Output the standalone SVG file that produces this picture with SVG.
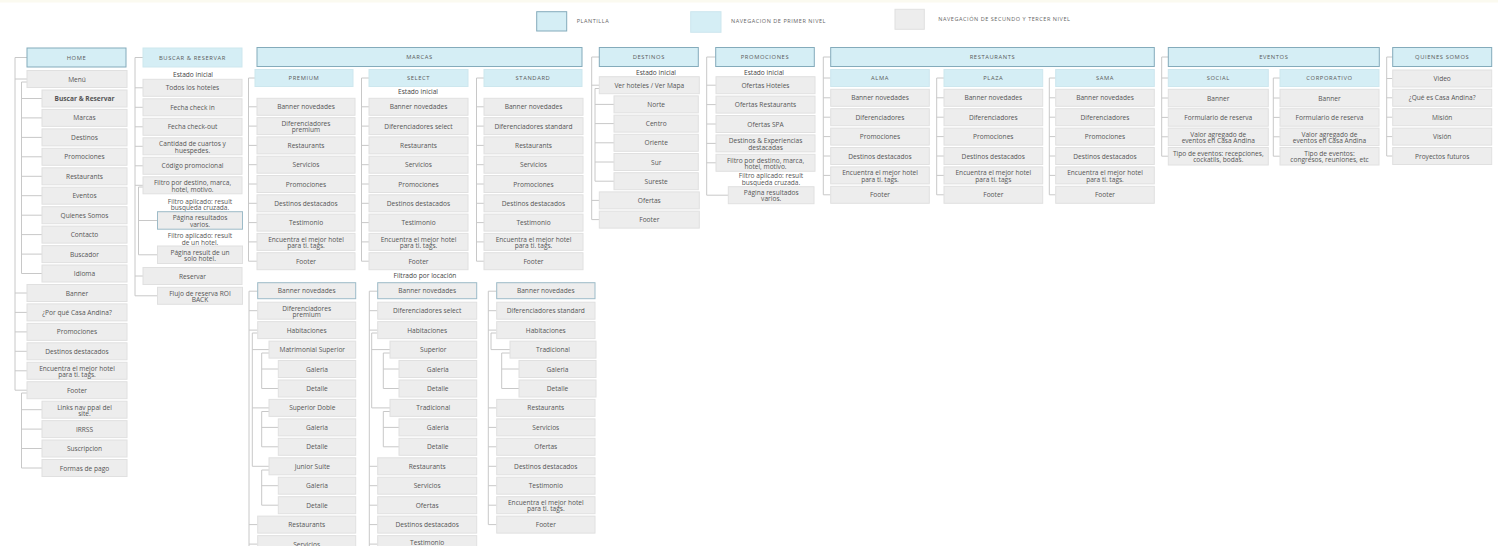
<svg xmlns="http://www.w3.org/2000/svg" width="1498" height="546" viewBox="0 0 1498 546">
<style>
.g{fill:#ededed;stroke:#e0e0e0;stroke-width:1}
.b{fill:#d5eef5;stroke:#cde7ee;stroke-width:1}
.p{fill:#d5eef5;stroke:#84abbb;stroke-width:1}
.gp{fill:#ededed;stroke:#9dbbc8;stroke-width:1}
text,tspan{font-family:"Open Sans","Liberation Sans",sans-serif;font-size:6.6px;fill:#555;text-anchor:middle;dominant-baseline:central}
.h{font-size:5.8px;letter-spacing:0.6px;fill:#5a5a5a}
.lg{font-size:5.5px;letter-spacing:0.55px;text-anchor:start;fill:#666}
.s{fill:#444}
.bd{font-weight:bold}
#connectors path{fill:none;stroke:#c8c8c8;stroke-width:1}
</style>
<rect x="0" y="0" width="1498" height="546" fill="#ffffff"/>
<rect x="0" y="0" width="1498" height="2.5" fill="#fbfaf0"/>

<g id="legend">
<rect class="p" x="536.7" y="11.7" width="30" height="19.3"/>
<text class="lg" x="576.7" y="21">PLANTILLA</text>
<rect class="b" x="690.7" y="11.7" width="30.3" height="20.6"/>
<text class="lg" x="731" y="21">NAVEGACION DE PRIMER NIVEL</text>
<rect class="g" x="895" y="9.3" width="29.3" height="20"/>
<text class="lg" x="938.3" y="19.3">NAVEGACIÓN DE SECUNDO Y TERCER NIVEL</text>
</g>

<g id="connectors">
<path d="M27 57.5H15V390.2H27 M15 79H27 M15 293H27 M15 312.4H27 M15 331.9H27 M15 351.3H27 M15 370.8H27"/>
<path d="M27 82H21.5V273.5H42 M21.5 98.5H42 M21.5 117.9H42 M21.5 137.4H42 M21.5 156.8H42 M21.5 176.3H42 M21.5 195.7H42 M21.5 215.2H42 M21.5 234.6H42 M21.5 254.1H42"/>
<path d="M27 393H21.5V468H42 M21.5 409.7H42 M21.5 429.1H42 M21.5 448.5H42"/>
<path d="M143 57.5H135V295.8H157.5 M135 87.8H143 M135 107.3H143 M135 126.8H143 M135 146.3H143 M135 165.8H143 M135 185.3H143 M135 276H143"/>
<path d="M143 187H138.5V254.8H157.5 M138.5 220.5H157.5"/>
<path d="M255 78H248.5V261.2H257 M248.5 106.8H257 M248.5 126.1H257 M248.5 145.4H257 M248.5 164.7H257 M248.5 184H257 M248.5 203.3H257 M248.5 222.6H257 M248.5 241.9H257"/>
<path d="M369 78H361.5V261.2H369 M361.5 106.8H369 M361.5 126.1H369 M361.5 145.4H369 M361.5 164.7H369 M361.5 184H369 M361.5 203.3H369 M361.5 222.6H369 M361.5 241.9H369"/>
<path d="M484 78H476.5V261.2H484 M476.5 106.8H484 M476.5 126.1H484 M476.5 145.4H484 M476.5 164.7H484 M476.5 184H484 M476.5 203.3H484 M476.5 222.6H484 M476.5 241.9H484"/>
<path d="M257.7 291.2H249V546 M249 310.7H257.7 M249 330.1H257.7 M249 524.6H257.7 M249 544.1H257.7"/>
<path d="M257.7 333H252.3V466.3H269 M252.3 349.6H269 M252.3 407.9H269"/>
<path d="M269 353H261.7V388.5H278.3 M261.7 369H278.3"/>
<path d="M269 411.5H261.7V446.8H278.3 M261.7 427.4H278.3"/>
<path d="M269 470H261.7V505.2H278.3 M261.7 485.7H278.3"/>
<path d="M377.7 291.2H369.3V546 M369.3 310.7H377.7 M369.3 330.1H377.7 M369.3 466.3H377.7 M369.3 485.7H377.7 M369.3 505.2H377.7 M369.3 524.6H377.7 M369.3 544.1H377.7"/>
<path d="M377.7 333H371.7V407.9H390 M371.7 349.6H390"/>
<path d="M390 353H383.3V388.5H399 M383.3 369H399"/>
<path d="M390 411.5H383.3V446.8H399 M383.3 427.4H399"/>
<path d="M496.7 291.2H488.3V524.6H496.7 M488.3 310.7H496.7 M488.3 330.1H496.7 M488.3 407.9H496.7 M488.3 427.4H496.7 M488.3 446.8H496.7 M488.3 466.3H496.7 M488.3 485.7H496.7 M488.3 505.2H496.7"/>
<path d="M496.7 333H491V349.6H510"/>
<path d="M510 353H501.7V388.5H519 M501.7 369H519"/>
<path d="M599.3 57H591.7V219.6H599.3 M591.7 85.2H599.3 M591.7 200.4H599.3"/>
<path d="M599.3 88.5H595V181.2H614 M595 104.4H614 M595 123.6H614 M595 142.8H614 M595 162H614"/>
<path d="M715.7 57H706.7V195.2H728.3 M706.7 85.2H716 M706.7 104.6H716 M706.7 124H716 M706.7 143.4H716 M706.7 162.8H716"/>
<path d="M830.7 57H823.3V194.8H830.7 M823.3 78H830.7 M823.3 97.8H830.7 M823.3 117.2H830.7 M823.3 136.6H830.7 M823.3 156H830.7 M823.3 175.4H830.7"/>
<path d="M944 78H936.7V194.8H944 M936.7 97.8H944 M936.7 117.2H944 M936.7 136.6H944 M936.7 156H944 M936.7 175.4H944"/>
<path d="M1055.7 78H1049.3V194.8H1055.7 M1049.3 97.8H1055.7 M1049.3 117.2H1055.7 M1049.3 136.6H1055.7 M1049.3 156H1055.7 M1049.3 175.4H1055.7"/>
<path d="M1168.3 57H1161.7V156.2H1168.3 M1161.7 78H1168.3 M1161.7 98H1168.3 M1161.7 117.4H1168.3 M1161.7 136.8H1168.3"/>
<path d="M1280 78H1273.3V156.2H1280 M1273.3 98H1280 M1273.3 117.4H1280 M1273.3 136.8H1280"/>
<path d="M1392.7 57H1386.7V156H1392.7 M1386.7 78.5H1392.7 M1386.7 97.8H1392.7 M1386.7 117.2H1392.7 M1386.7 136.6H1392.7"/>
</g>

<g id="labels">
<text class="s" x="193" y="74.5">Estado inicial</text>
<text class="s" x="200"><tspan x="200" y="200.8">Filtro aplicado: result</tspan><tspan x="200" y="207.4">busqueda cruzada.</tspan></text>
<text class="s" x="200"><tspan x="200" y="235.4">Filtro aplicado: result</tspan><tspan x="200" y="242">de un hotel.</tspan></text>
<text class="s" x="418" y="91.7">Estado inicial</text>
<text class="s" x="425" y="275.3">Filtrado por locación</text>
<text class="s" x="656" y="72.3">Estado inicial</text>
<text class="s" x="764" y="72.3">Estado inicial</text>
<text class="s" x="771"><tspan x="771" y="175.2">Filtro aplicado: result</tspan><tspan x="771" y="181.8">busqueda cruzada.</tspan></text>
</g>

<g id="home"><rect class="p" x="27" y="48" width="99" height="19"/><text class="h" x="76.5" y="57.5">HOME</text></g>
<g id="home-menu"><rect class="g" x="27" y="70.5" width="100" height="17"/><text x="77" y="79">Menú</text></g>
<g id="home-menu-buscar"><rect class="g" x="42" y="90" width="85" height="17"/><text class="bd" x="84.5" y="98.5">Buscar &amp; Reservar</text></g>
<g id="home-menu-marcas"><rect class="g" x="42" y="109.4" width="85" height="17"/><text x="84.5" y="117.9">Marcas</text></g>
<g id="home-menu-destinos"><rect class="g" x="42" y="128.9" width="85" height="17"/><text x="84.5" y="137.4">Destinos</text></g>
<g id="home-menu-promociones"><rect class="g" x="42" y="148.3" width="85" height="17"/><text x="84.5" y="156.8">Promociones</text></g>
<g id="home-menu-restaurants"><rect class="g" x="42" y="167.8" width="85" height="17"/><text x="84.5" y="176.3">Restaurants</text></g>
<g id="home-menu-eventos"><rect class="g" x="42" y="187.2" width="85" height="17"/><text x="84.5" y="195.7">Eventos</text></g>
<g id="home-menu-quienes"><rect class="g" x="42" y="206.7" width="85" height="17"/><text x="84.5" y="215.2">Quienes Somos</text></g>
<g id="home-menu-contacto"><rect class="g" x="42" y="226.1" width="85" height="17"/><text x="84.5" y="234.6">Contacto</text></g>
<g id="home-menu-buscador"><rect class="g" x="42" y="245.6" width="85" height="17"/><text x="84.5" y="254.1">Buscador</text></g>
<g id="home-menu-idioma"><rect class="g" x="42" y="265" width="85" height="17"/><text x="84.5" y="273.5">Idioma</text></g>
<g id="home-banner"><rect class="g" x="27" y="284.5" width="100" height="17"/><text x="77" y="293">Banner</text></g>
<g id="home-porque"><rect class="g" x="27" y="303.9" width="100" height="17"/><text x="77" y="312.4">¿Por qué Casa Andina?</text></g>
<g id="home-promociones"><rect class="g" x="27" y="323.4" width="100" height="17"/><text x="77" y="331.9">Promociones</text></g>
<g id="home-destinos"><rect class="g" x="27" y="342.8" width="100" height="17"/><text x="77" y="351.3">Destinos destacados</text></g>
<g id="home-encuentra"><rect class="g" x="27" y="362.3" width="100" height="17"/><text x="77"><tspan x="77" y="367.6">Encuentra el mejor hotel</tspan><tspan x="77" y="374">para ti. tags.</tspan></text></g>
<g id="home-footer"><rect class="g" x="27" y="381.7" width="100" height="17"/><text x="77" y="390.2">Footer</text></g>
<g id="home-footer-links"><rect class="g" x="42" y="401.2" width="85" height="17"/><text x="84.5"><tspan x="84.5" y="406.5">Links nav ppal del</tspan><tspan x="84.5" y="412.9">site.</tspan></text></g>
<g id="home-footer-irrss"><rect class="g" x="42" y="420.6" width="85" height="17"/><text x="84.5" y="429.1">IRRSS</text></g>
<g id="home-footer-suscripcion"><rect class="g" x="42" y="440" width="85" height="17"/><text x="84.5" y="448.5">Suscripcion</text></g>
<g id="home-footer-formas"><rect class="g" x="42" y="459.5" width="85" height="17"/><text x="84.5" y="468">Formas de pago</text></g>

<g id="buscar"><rect class="b" x="143" y="48" width="99" height="19"/><text class="h" x="192.5" y="57.5">BUSCAR &amp; RESERVAR</text></g>
<g id="buscar-todos"><rect class="g" x="143" y="79.3" width="99" height="17"/><text x="192.5" y="87.8">Todos los hoteles</text></g>
<g id="buscar-checkin"><rect class="g" x="143" y="98.8" width="99" height="17"/><text x="192.5" y="107.3">Fecha check in</text></g>
<g id="buscar-checkout"><rect class="g" x="143" y="118.3" width="99" height="17"/><text x="192.5" y="126.8">Fecha check-out</text></g>
<g id="buscar-cantidad"><rect class="g" x="143" y="137.8" width="99" height="17"/><text x="192.5"><tspan x="192.5" y="143.1">Cantidad de cuartos y</tspan><tspan x="192.5" y="149.5">huespedes.</tspan></text></g>
<g id="buscar-codigo"><rect class="g" x="143" y="157.3" width="99" height="17"/><text x="192.5" y="165.8">Código promocional</text></g>
<g id="buscar-filtro"><rect class="g" x="143" y="176.8" width="99" height="17"/><text x="192.5"><tspan x="192.5" y="182.1">Filtro por destino, marca,</tspan><tspan x="192.5" y="188.5">hotel, motivo.</tspan></text></g>
<g id="buscar-pagina-varios"><rect class="gp" x="157.5" y="211.7" width="85" height="17.5"/><text x="200"><tspan x="200" y="217.3">Página resultados</tspan><tspan x="200" y="223.7">varios.</tspan></text></g>
<g id="buscar-pagina-hotel"><rect class="g" x="157.5" y="246" width="85" height="17.5"/><text x="200"><tspan x="200" y="251.6">Página result de un</tspan><tspan x="200" y="258">solo hotel.</tspan></text></g>
<g id="buscar-reservar"><rect class="g" x="143" y="267.5" width="99" height="17"/><text x="192.5" y="276">Reservar</text></g>
<g id="buscar-flujo"><rect class="g" x="157.5" y="287.3" width="85" height="17"/><text x="200"><tspan x="200" y="292.6">Flujo de reserva ROI</tspan><tspan x="200" y="299">BACK</tspan></text></g>

<g id="marcas"><rect class="p" x="257" y="47.5" width="325" height="19"/><text class="h" x="419.5" y="57">MARCAS</text></g>
<g id="premium"><rect class="b" x="255" y="69.5" width="98" height="17"/><text class="h" x="304" y="78">PREMIUM</text></g>
<g id="select"><rect class="b" x="369" y="69.5" width="99" height="17"/><text class="h" x="418.5" y="78">SELECT</text></g>
<g id="standard"><rect class="b" x="484" y="69.5" width="98" height="17"/><text class="h" x="533" y="78">STANDARD</text></g>

<g id="premium-banner"><rect class="g" x="257" y="98.3" width="98" height="17"/><text x="306" y="106.8">Banner novedades</text></g>
<g id="premium-dif"><rect class="g" x="257" y="117.6" width="98" height="17"/><text x="306"><tspan x="306" y="122.9">Diferenciadores</tspan><tspan x="306" y="129.3">premium</tspan></text></g>
<g id="premium-rest"><rect class="g" x="257" y="136.9" width="98" height="17"/><text x="306" y="145.4">Restaurants</text></g>
<g id="premium-serv"><rect class="g" x="257" y="156.2" width="98" height="17"/><text x="306" y="164.7">Servicios</text></g>
<g id="premium-promo"><rect class="g" x="257" y="175.5" width="98" height="17"/><text x="306" y="184">Promociones</text></g>
<g id="premium-dest"><rect class="g" x="257" y="194.8" width="98" height="17"/><text x="306" y="203.3">Destinos destacados</text></g>
<g id="premium-test"><rect class="g" x="257" y="214.1" width="98" height="17"/><text x="306" y="222.6">Testimonio</text></g>
<g id="premium-enc"><rect class="g" x="257" y="233.4" width="98" height="17"/><text x="306"><tspan x="306" y="238.7">Encuentra el mejor hotel</tspan><tspan x="306" y="245.1">para ti. tags.</tspan></text></g>
<g id="premium-footer"><rect class="g" x="257" y="252.7" width="98" height="17"/><text x="306" y="261.2">Footer</text></g>

<g id="select-banner"><rect class="g" x="369" y="98.3" width="99" height="17"/><text x="418.5" y="106.8">Banner novedades</text></g>
<g id="select-dif"><rect class="g" x="369" y="117.6" width="99" height="17"/><text x="418.5" y="126.1">Diferenciadores select</text></g>
<g id="select-rest"><rect class="g" x="369" y="136.9" width="99" height="17"/><text x="418.5" y="145.4">Restaurants</text></g>
<g id="select-serv"><rect class="g" x="369" y="156.2" width="99" height="17"/><text x="418.5" y="164.7">Servicios</text></g>
<g id="select-promo"><rect class="g" x="369" y="175.5" width="99" height="17"/><text x="418.5" y="184">Promociones</text></g>
<g id="select-dest"><rect class="g" x="369" y="194.8" width="99" height="17"/><text x="418.5" y="203.3">Destinos destacados</text></g>
<g id="select-test"><rect class="g" x="369" y="214.1" width="99" height="17"/><text x="418.5" y="222.6">Testimonio</text></g>
<g id="select-enc"><rect class="g" x="369" y="233.4" width="99" height="17"/><text x="418.5"><tspan x="418.5" y="238.7">Encuentra el mejor hotel</tspan><tspan x="418.5" y="245.1">para ti. tags.</tspan></text></g>
<g id="select-footer"><rect class="g" x="369" y="252.7" width="99" height="17"/><text x="418.5" y="261.2">Footer</text></g>

<g id="standard-banner"><rect class="g" x="484" y="98.3" width="99" height="17"/><text x="533.5" y="106.8">Banner novedades</text></g>
<g id="standard-dif"><rect class="g" x="484" y="117.6" width="99" height="17"/><text x="533.5" y="126.1">Diferenciadores standard</text></g>
<g id="standard-rest"><rect class="g" x="484" y="136.9" width="99" height="17"/><text x="533.5" y="145.4">Restaurants</text></g>
<g id="standard-serv"><rect class="g" x="484" y="156.2" width="99" height="17"/><text x="533.5" y="164.7">Servicios</text></g>
<g id="standard-promo"><rect class="g" x="484" y="175.5" width="99" height="17"/><text x="533.5" y="184">Promociones</text></g>
<g id="standard-dest"><rect class="g" x="484" y="194.8" width="99" height="17"/><text x="533.5" y="203.3">Destinos destacados</text></g>
<g id="standard-test"><rect class="g" x="484" y="214.1" width="99" height="17"/><text x="533.5" y="222.6">Testimonio</text></g>
<g id="standard-enc"><rect class="g" x="484" y="233.4" width="99" height="17"/><text x="533.5"><tspan x="533.5" y="238.7">Encuentra el mejor hotel</tspan><tspan x="533.5" y="245.1">para ti. tags.</tspan></text></g>
<g id="standard-footer"><rect class="g" x="484" y="252.7" width="99" height="17"/><text x="533.5" y="261.2">Footer</text></g>

<g id="lp-banner"><rect class="gp" x="257.7" y="282.7" width="98" height="16"/><text x="306.7" y="290.9">Banner novedades</text></g>
<g id="lp-dif"><rect class="g" x="257.7" y="302.2" width="98" height="17"/><text x="306.7"><tspan x="306.7" y="307.5">Diferenciadores</tspan><tspan x="306.7" y="313.9">premium</tspan></text></g>
<g id="lp-hab"><rect class="g" x="257.7" y="321.6" width="98" height="17"/><text x="306.7" y="330.1">Habitaciones</text></g>
<g id="lp-matr"><rect class="g" x="269" y="341.1" width="86.7" height="17"/><text x="312.3" y="349.6">Matrimonial Superior</text></g>
<g id="lp-matr-gal"><rect class="g" x="278.3" y="360.5" width="77.4" height="17"/><text x="317" y="369">Galeria</text></g>
<g id="lp-matr-det"><rect class="g" x="278.3" y="380" width="77.4" height="17"/><text x="317" y="388.5">Detalle</text></g>
<g id="lp-supd"><rect class="g" x="269" y="399.4" width="86.7" height="17"/><text x="312.3" y="407.9">Superior Doble</text></g>
<g id="lp-supd-gal"><rect class="g" x="278.3" y="418.9" width="77.4" height="17"/><text x="317" y="427.4">Galeria</text></g>
<g id="lp-supd-det"><rect class="g" x="278.3" y="438.3" width="77.4" height="17"/><text x="317" y="446.8">Detalle</text></g>
<g id="lp-jun"><rect class="g" x="269" y="457.8" width="86.7" height="17"/><text x="312.3" y="466.3">Junior Suite</text></g>
<g id="lp-jun-gal"><rect class="g" x="278.3" y="477.2" width="77.4" height="17"/><text x="317" y="485.7">Galeria</text></g>
<g id="lp-jun-det"><rect class="g" x="278.3" y="496.7" width="77.4" height="17"/><text x="317" y="505.2">Detalle</text></g>
<g id="lp-rest"><rect class="g" x="257.7" y="516.1" width="98" height="17"/><text x="306.7" y="524.6">Restaurants</text></g>
<g id="lp-serv"><rect class="g" x="257.7" y="535.6" width="98" height="17"/><text x="306.7" y="544.1">Servicios</text></g>

<g id="ls-banner"><rect class="gp" x="377.7" y="282.7" width="99" height="16"/><text x="427.2" y="290.9">Banner novedades</text></g>
<g id="ls-dif"><rect class="g" x="377.7" y="302.2" width="99" height="17"/><text x="427.2" y="310.7">Diferenciadores select</text></g>
<g id="ls-hab"><rect class="g" x="377.7" y="321.6" width="99" height="17"/><text x="427.2" y="330.1">Habitaciones</text></g>
<g id="ls-sup"><rect class="g" x="390" y="341.1" width="86.7" height="17"/><text x="433.3" y="349.6">Superior</text></g>
<g id="ls-sup-gal"><rect class="g" x="399" y="360.5" width="77.7" height="17"/><text x="437.8" y="369">Galeria</text></g>
<g id="ls-sup-det"><rect class="g" x="399" y="380" width="77.7" height="17"/><text x="437.8" y="388.5">Detalle</text></g>
<g id="ls-trad"><rect class="g" x="390" y="399.4" width="86.7" height="17"/><text x="433.3" y="407.9">Tradicional</text></g>
<g id="ls-trad-gal"><rect class="g" x="399" y="418.9" width="77.7" height="17"/><text x="437.8" y="427.4">Galeria</text></g>
<g id="ls-trad-det"><rect class="g" x="399" y="438.3" width="77.7" height="17"/><text x="437.8" y="446.8">Detalle</text></g>
<g id="ls-rest"><rect class="g" x="377.7" y="457.8" width="99" height="17"/><text x="427.2" y="466.3">Restaurants</text></g>
<g id="ls-serv"><rect class="g" x="377.7" y="477.2" width="99" height="17"/><text x="427.2" y="485.7">Servicios</text></g>
<g id="ls-ofer"><rect class="g" x="377.7" y="496.7" width="99" height="17"/><text x="427.2" y="505.2">Ofertas</text></g>
<g id="ls-dest"><rect class="g" x="377.7" y="516.1" width="99" height="17"/><text x="427.2" y="524.6">Destinos destacados</text></g>
<g id="ls-test"><rect class="g" x="377.7" y="535.6" width="99" height="17"/><text x="427.2" y="542">Testimonio</text></g>

<g id="lt-banner"><rect class="gp" x="496.7" y="282.7" width="98.3" height="16"/><text x="545.8" y="290.9">Banner novedades</text></g>
<g id="lt-dif"><rect class="g" x="496.7" y="302.2" width="98.3" height="17"/><text x="545.8" y="310.7">Diferenciadores standard</text></g>
<g id="lt-hab"><rect class="g" x="496.7" y="321.6" width="98.3" height="17"/><text x="545.8" y="330.1">Habitaciones</text></g>
<g id="lt-trad"><rect class="g" x="510" y="341.1" width="86" height="17"/><text x="553" y="349.6">Tradicional</text></g>
<g id="lt-trad-gal"><rect class="g" x="519" y="360.5" width="77" height="17"/><text x="557.5" y="369">Galeria</text></g>
<g id="lt-trad-det"><rect class="g" x="519" y="380" width="77" height="17"/><text x="557.5" y="388.5">Detalle</text></g>
<g id="lt-rest"><rect class="g" x="496.7" y="399.4" width="98.3" height="17"/><text x="545.8" y="407.9">Restaurants</text></g>
<g id="lt-serv"><rect class="g" x="496.7" y="418.9" width="98.3" height="17"/><text x="545.8" y="427.4">Servicios</text></g>
<g id="lt-ofer"><rect class="g" x="496.7" y="438.3" width="98.3" height="17"/><text x="545.8" y="446.8">Ofertas</text></g>
<g id="lt-dest"><rect class="g" x="496.7" y="457.8" width="98.3" height="17"/><text x="545.8" y="466.3">Destinos destacados</text></g>
<g id="lt-test"><rect class="g" x="496.7" y="477.2" width="98.3" height="17"/><text x="545.8" y="485.7">Testimonio</text></g>
<g id="lt-enc"><rect class="g" x="496.7" y="496.7" width="98.3" height="17"/><text x="545.8"><tspan x="545.8" y="502">Encuentra el mejor hotel</tspan><tspan x="545.8" y="508.4">para ti. tags.</tspan></text></g>
<g id="lt-footer"><rect class="g" x="496.7" y="516.1" width="98.3" height="17"/><text x="545.8" y="524.6">Footer</text></g>

<g id="destinos"><rect class="p" x="599.3" y="47.5" width="99" height="19"/><text class="h" x="648.8" y="57">DESTINOS</text></g>
<g id="destinos-ver"><rect class="g" x="599.3" y="76.7" width="100" height="17"/><text x="649.3" y="85.2">Ver hoteles / Ver Mapa</text></g>
<g id="destinos-norte"><rect class="g" x="614" y="95.9" width="84.3" height="17"/><text x="656.2" y="104.4">Norte</text></g>
<g id="destinos-centro"><rect class="g" x="614" y="115.1" width="84.3" height="17"/><text x="656.2" y="123.6">Centro</text></g>
<g id="destinos-oriente"><rect class="g" x="614" y="134.3" width="84.3" height="17"/><text x="656.2" y="142.8">Oriente</text></g>
<g id="destinos-sur"><rect class="g" x="614" y="153.5" width="84.3" height="17"/><text x="656.2" y="162">Sur</text></g>
<g id="destinos-sureste"><rect class="g" x="614" y="172.7" width="84.3" height="17"/><text x="656.2" y="181.2">Sureste</text></g>
<g id="destinos-ofertas"><rect class="g" x="599.3" y="191.9" width="100" height="17"/><text x="649.3" y="200.4">Ofertas</text></g>
<g id="destinos-footer"><rect class="g" x="599.3" y="211.1" width="100" height="17"/><text x="649.3" y="219.6">Footer</text></g>

<g id="promociones"><rect class="p" x="715.7" y="47.5" width="98.6" height="19"/><text class="h" x="765" y="57">PROMOCIONES</text></g>
<g id="promo-hoteles"><rect class="g" x="716" y="76.7" width="99" height="17"/><text x="765.5" y="85.2">Ofertas Hoteles</text></g>
<g id="promo-rest"><rect class="g" x="716" y="96.1" width="99" height="17"/><text x="765.5" y="104.6">Ofertas Restaurants</text></g>
<g id="promo-spa"><rect class="g" x="716" y="115.5" width="99" height="17"/><text x="765.5" y="124">Ofertas SPA</text></g>
<g id="promo-dest"><rect class="g" x="716" y="134.9" width="99" height="17"/><text x="765.5"><tspan x="765.5" y="140.2">Destinos &amp; Experiencias</tspan><tspan x="765.5" y="146.6">destacadas</tspan></text></g>
<g id="promo-filtro"><rect class="g" x="716" y="154.3" width="99" height="17"/><text x="765.5"><tspan x="765.5" y="159.6">Filtro por destino, marca,</tspan><tspan x="765.5" y="166">hotel, motivo.</tspan></text></g>
<g id="promo-pagina"><rect class="g" x="728.3" y="186.7" width="85.7" height="17"/><text x="771.2"><tspan x="771.2" y="192">Página resultados</tspan><tspan x="771.2" y="198.4">varios.</tspan></text></g>

<g id="restaurants"><rect class="p" x="830.7" y="47.5" width="323.6" height="19"/><text class="h" x="992.5" y="57">RESTAURANTS</text></g>
<g id="alma"><rect class="b" x="830.7" y="69.5" width="98.6" height="17"/><text class="h" x="880" y="78">ALMA</text></g>
<g id="plaza"><rect class="b" x="944" y="69.5" width="98.7" height="17"/><text class="h" x="993.3" y="78">PLAZA</text></g>
<g id="sama"><rect class="b" x="1055.7" y="69.5" width="98.6" height="17"/><text class="h" x="1105" y="78">SAMA</text></g>

<g id="alma-banner"><rect class="g" x="830.7" y="89.3" width="98.6" height="17"/><text x="880" y="97.8">Banner novedades</text></g>
<g id="alma-dif"><rect class="g" x="830.7" y="108.7" width="98.6" height="17"/><text x="880" y="117.2">Diferenciadores</text></g>
<g id="alma-promo"><rect class="g" x="830.7" y="128.1" width="98.6" height="17"/><text x="880" y="136.6">Promociones</text></g>
<g id="alma-dest"><rect class="g" x="830.7" y="147.5" width="98.6" height="17"/><text x="880" y="156">Destinos destacados</text></g>
<g id="alma-enc"><rect class="g" x="830.7" y="166.9" width="98.6" height="17"/><text x="880"><tspan x="880" y="172.2">Encuentra el mejor hotel</tspan><tspan x="880" y="178.6">para ti. tags.</tspan></text></g>
<g id="alma-footer"><rect class="g" x="830.7" y="186.3" width="98.6" height="17"/><text x="880" y="194.8">Footer</text></g>

<g id="plaza-banner"><rect class="g" x="944" y="89.3" width="98.7" height="17"/><text x="993.3" y="97.8">Banner novedades</text></g>
<g id="plaza-dif"><rect class="g" x="944" y="108.7" width="98.7" height="17"/><text x="993.3" y="117.2">Diferenciadores</text></g>
<g id="plaza-promo"><rect class="g" x="944" y="128.1" width="98.7" height="17"/><text x="993.3" y="136.6">Promociones</text></g>
<g id="plaza-dest"><rect class="g" x="944" y="147.5" width="98.7" height="17"/><text x="993.3" y="156">Destinos destacados</text></g>
<g id="plaza-enc"><rect class="g" x="944" y="166.9" width="98.7" height="17"/><text x="993.3"><tspan x="993.3" y="172.2">Encuentra el mejor hotel</tspan><tspan x="993.3" y="178.6">para ti. tags</tspan></text></g>
<g id="plaza-footer"><rect class="g" x="944" y="186.3" width="98.7" height="17"/><text x="993.3" y="194.8">Footer</text></g>

<g id="sama-banner"><rect class="g" x="1055.7" y="89.3" width="98.6" height="17"/><text x="1105" y="97.8">Banner novedades</text></g>
<g id="sama-dif"><rect class="g" x="1055.7" y="108.7" width="98.6" height="17"/><text x="1105" y="117.2">Diferenciadores</text></g>
<g id="sama-promo"><rect class="g" x="1055.7" y="128.1" width="98.6" height="17"/><text x="1105" y="136.6">Promociones</text></g>
<g id="sama-dest"><rect class="g" x="1055.7" y="147.5" width="98.6" height="17"/><text x="1105" y="156">Destinos destacados</text></g>
<g id="sama-enc"><rect class="g" x="1055.7" y="166.9" width="98.6" height="17"/><text x="1105"><tspan x="1105" y="172.2">Encuentra el mejor hotel</tspan><tspan x="1105" y="178.6">para ti. tags.</tspan></text></g>
<g id="sama-footer"><rect class="g" x="1055.7" y="186.3" width="98.6" height="17"/><text x="1105" y="194.8">Footer</text></g>

<g id="eventos"><rect class="p" x="1168.3" y="47.5" width="211" height="19"/><text class="h" x="1273.8" y="57">EVENTOS</text></g>
<g id="social"><rect class="b" x="1168.3" y="69.5" width="100" height="17"/><text class="h" x="1218.3" y="78">SOCIAL</text></g>
<g id="corporativo"><rect class="b" x="1280" y="69.5" width="99" height="17"/><text class="h" x="1329.5" y="78">CORPORATIVO</text></g>
<g id="social-banner"><rect class="g" x="1168.3" y="89.3" width="100" height="17.5"/><text x="1218.3" y="98">Banner</text></g>
<g id="social-form"><rect class="g" x="1168.3" y="108.7" width="100" height="17.5"/><text x="1218.3" y="117.4">Formulario de reserva</text></g>
<g id="social-valor"><rect class="g" x="1168.3" y="128.1" width="100" height="17.5"/><text x="1218.3"><tspan x="1218.3" y="133.6">Valor agregado de</tspan><tspan x="1218.3" y="140">eventos en Casa Andina</tspan></text></g>
<g id="social-tipo"><rect class="g" x="1168.3" y="147.5" width="100" height="17.5"/><text x="1218.3"><tspan x="1218.3" y="153">Tipo de eventos: recepciones,</tspan><tspan x="1218.3" y="159.4">cockatils, bodas.</tspan></text></g>
<g id="corp-banner"><rect class="g" x="1280" y="89.3" width="99" height="17.5"/><text x="1329.5" y="98">Banner</text></g>
<g id="corp-form"><rect class="g" x="1280" y="108.7" width="99" height="17.5"/><text x="1329.5" y="117.4">Formulario de reserva</text></g>
<g id="corp-valor"><rect class="g" x="1280" y="128.1" width="99" height="17.5"/><text x="1329.5"><tspan x="1329.5" y="133.6">Valor agregado de</tspan><tspan x="1329.5" y="140">eventos en Casa Andina</tspan></text></g>
<g id="corp-tipo"><rect class="g" x="1280" y="147.5" width="99" height="17.5"/><text x="1329.5"><tspan x="1329.5" y="153">Tipo de eventos:</tspan><tspan x="1329.5" y="159.4">congresos, reuniones, etc</tspan></text></g>

<g id="quienes"><rect class="p" x="1392.7" y="47.5" width="99" height="19"/><text class="h" x="1442.2" y="57">QUIENES SOMOS</text></g>
<g id="quienes-video"><rect class="g" x="1392.7" y="70" width="99" height="17"/><text x="1442.2" y="78.5">Video</text></g>
<g id="quienes-que"><rect class="g" x="1392.7" y="89.3" width="99" height="17"/><text x="1442.2" y="97.8">¿Qué es Casa Andina?</text></g>
<g id="quienes-mision"><rect class="g" x="1392.7" y="108.7" width="99" height="17"/><text x="1442.2" y="117.2">Misión</text></g>
<g id="quienes-vision"><rect class="g" x="1392.7" y="128.1" width="99" height="17"/><text x="1442.2" y="136.6">Visión</text></g>
<g id="quienes-proyectos"><rect class="g" x="1392.7" y="147.5" width="99" height="17"/><text x="1442.2" y="156">Proyectos futuros</text></g>
</svg>
